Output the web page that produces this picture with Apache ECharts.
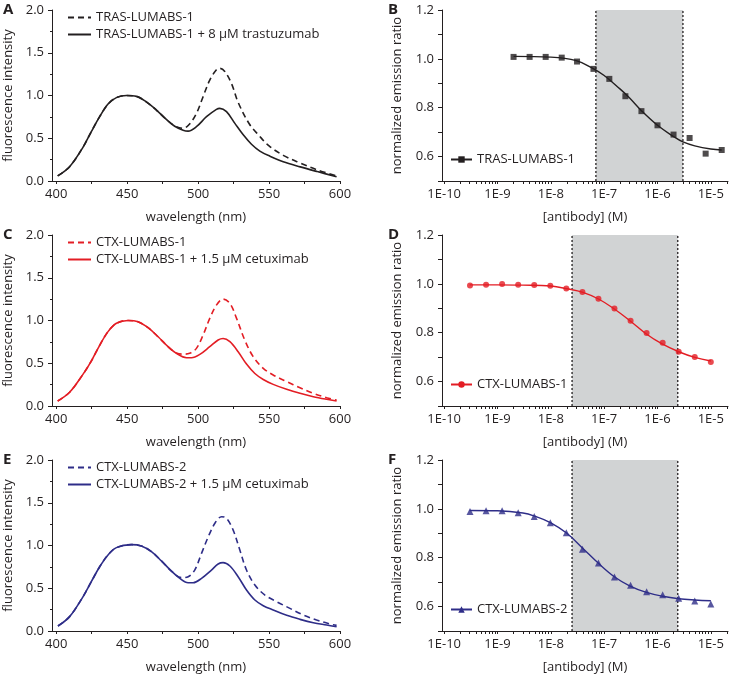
<!DOCTYPE html>
<html><head><meta charset="utf-8">
<script src="https://cdn.jsdelivr.net/npm/echarts@6/dist/echarts.min.js"></script>
<style>html,body{margin:0;padding:0;background:#fff}#c{width:729px;height:675px}</style>
</head><body><div id="c"></div>
<script>
// ---------- tick labels ----------
const wlLabels = [400, 450, 500, 550, 600];
const wlTicks = [400, 425, 450, 475, 500, 525, 550, 575, 600];
const concLabels = [1e-10, 1e-9, 1e-8, 1e-7, 1e-6, 1e-5];

// ---------- panel A (TRAS-LUMABS-1 spectra) ----------
const aSolidWl = [401, 409.4, 418.8, 424.7, 430.6, 436.5, 442.4, 449.5, 456.5, 463.5, 470.6, 477.6, 483.5, 489.4, 492.9, 498.8, 505.9, 512.9, 515.3, 520, 525.9, 531.8, 537.6, 543.5, 550.6, 560, 572, 584, 597.6];
const aSolidI  = [0.06, 0.167, 0.394, 0.577, 0.752, 0.90, 0.975, 1.0, 0.99, 0.925, 0.83, 0.72, 0.64, 0.594, 0.583, 0.635, 0.752, 0.838, 0.85, 0.811, 0.674, 0.54, 0.43, 0.35, 0.29, 0.225, 0.165, 0.11, 0.05];
const aDashWl  = [401, 409.4, 418.8, 424.7, 430.6, 436.5, 442.4, 449.5, 456.5, 463.5, 470.6, 477.6, 483.5, 489.4, 494, 498.8, 503.5, 508.2, 512.9, 515.3, 518.8, 523.5, 528.2, 536, 543, 550, 560, 572, 584, 597.6];
const aDashI   = [0.06, 0.167, 0.394, 0.577, 0.752, 0.90, 0.975, 1.0, 0.99, 0.925, 0.83, 0.72, 0.645, 0.616, 0.667, 0.79, 0.986, 1.18, 1.30, 1.318, 1.28, 1.14, 0.92, 0.67, 0.53, 0.41, 0.30, 0.21, 0.13, 0.06];

// ---------- panel C (CTX-LUMABS-1 spectra) ----------
const cSolidWl = [401, 409.4, 418.8, 424.7, 430.6, 436.5, 442.4, 450.6, 457.6, 464.7, 471.8, 478.8, 484.7, 491.8, 495.3, 501.2, 508.2, 514.1, 517.6, 522.4, 528.2, 534.1, 540, 545.9, 552.9, 562.4, 571.8, 581.2, 590.6, 597.6];
const cSolidI  = [0.058, 0.16, 0.37, 0.526, 0.71, 0.87, 0.967, 1.0, 0.986, 0.916, 0.81, 0.694, 0.616, 0.565, 0.565, 0.604, 0.694, 0.772, 0.79, 0.752, 0.635, 0.49, 0.38, 0.31, 0.253, 0.195, 0.148, 0.109, 0.078, 0.058];
const cDashWl  = [401, 409.4, 418.8, 424.7, 430.6, 436.5, 442.4, 450.6, 457.6, 464.7, 471.8, 478.8, 484.7, 489.4, 494, 498.8, 503.5, 508.2, 512.9, 517.6, 522.4, 527.1, 532.9, 538.8, 545.9, 552.9, 562.4, 571.8, 581.2, 590.6, 597.6];
const cDashI   = [0.058, 0.16, 0.37, 0.526, 0.71, 0.87, 0.967, 1.0, 0.986, 0.916, 0.81, 0.694, 0.62, 0.606, 0.616, 0.674, 0.83, 1.025, 1.18, 1.25, 1.20, 1.025, 0.77, 0.577, 0.44, 0.363, 0.285, 0.214, 0.148, 0.097, 0.07];

// ---------- panel E (CTX-LUMABS-2 spectra) ----------
const eSolidWl = [401.2, 409.4, 418.8, 424.7, 430.6, 436.5, 442.4, 452.9, 460, 467.1, 474.1, 481.2, 487.1, 492.9, 496.5, 502.4, 509.4, 514.1, 517.6, 522.4, 528.2, 534.1, 540, 545.9, 552.9, 562.4, 571.8, 581.2, 590.6, 597.6];
const eSolidI  = [0.058, 0.168, 0.40, 0.577, 0.752, 0.89, 0.975, 1.01, 0.995, 0.928, 0.82, 0.70, 0.616, 0.565, 0.565, 0.616, 0.713, 0.784, 0.80, 0.76, 0.635, 0.48, 0.363, 0.296, 0.246, 0.183, 0.136, 0.097, 0.07, 0.05];
const eDashWl  = [401.2, 409.4, 418.8, 424.7, 430.6, 436.5, 442.4, 452.9, 460, 467.1, 474.1, 481.2, 488.2, 493, 497.6, 502.4, 507.1, 511.8, 516.5, 520, 524.7, 529.4, 534.1, 540, 547.1, 555.3, 564.7, 574.1, 583.5, 592.9, 597.6];
const eDashI   = [0.058, 0.168, 0.40, 0.577, 0.752, 0.89, 0.975, 1.01, 0.995, 0.928, 0.82, 0.70, 0.624, 0.635, 0.713, 0.908, 1.10, 1.26, 1.337, 1.318, 1.18, 0.947, 0.713, 0.538, 0.42, 0.343, 0.265, 0.187, 0.129, 0.082, 0.066];

// ---------- panel B (TRAS-LUMABS-1 titration) ----------
const bConc  = [2e-9, 4e-9, 8e-9, 1.6e-8, 3.1e-8, 6.3e-8, 1.25e-7, 2.5e-7, 5e-7, 1e-6, 2e-6, 4e-6, 8e-6, 1.6e-5];
const bRatio = [1.008, 1.008, 1.008, 1.005, 0.989, 0.959, 0.918, 0.847, 0.786, 0.728, 0.690, 0.676, 0.612, 0.627];
const bFitConc  = [2e-9, 1e-8, 3e-8, 6e-8, 1e-7, 2e-7, 3e-7, 5e-7, 1e-6, 2e-6, 3e-6, 5e-6, 1e-5, 1.6e-5];
const bFitRatio = [1.01, 1.007, 0.993, 0.962, 0.932, 0.876, 0.84, 0.788, 0.728, 0.682, 0.66, 0.644, 0.631, 0.627];
const bBand = [7e-8, 3e-6];

// ---------- panel D (CTX-LUMABS-1 titration) ----------
const dConc  = [3.05e-10, 6.1e-10, 1.22e-9, 2.44e-9, 4.88e-9, 9.77e-9, 1.95e-8, 3.91e-8, 7.81e-8, 1.56e-7, 3.13e-7, 6.25e-7, 1.25e-6, 2.5e-6, 5e-6, 1e-5];
const dRatio = [0.993, 0.996, 0.999, 0.996, 0.995, 0.992, 0.981, 0.967, 0.939, 0.899, 0.849, 0.799, 0.759, 0.722, 0.701, 0.680];
const dFitConc  = [3e-10, 1e-9, 3e-9, 1e-8, 2e-8, 4e-8, 8e-8, 1.6e-7, 3e-7, 6e-7, 1.2e-6, 2.5e-6, 5e-6, 1e-5];
const dFitRatio = [0.996, 0.996, 0.995, 0.991, 0.980, 0.965, 0.937, 0.895, 0.85, 0.797, 0.755, 0.722, 0.699, 0.684];
const dBand = [2.5e-8, 2.4e-6];

// ---------- panel F (CTX-LUMABS-2 titration) ----------
const fConc  = [3.05e-10, 6.1e-10, 1.22e-9, 2.44e-9, 4.88e-9, 9.77e-9, 1.95e-8, 3.91e-8, 7.81e-8, 1.56e-7, 3.13e-7, 6.25e-7, 1.25e-6, 2.5e-6, 5e-6, 1e-5];
const fRatio = [0.989, 0.992, 0.992, 0.984, 0.969, 0.943, 0.902, 0.835, 0.778, 0.721, 0.687, 0.661, 0.648, 0.634, 0.623, 0.611];
const fFitConc  = [3e-10, 1e-9, 3e-9, 5e-9, 1e-8, 2e-8, 4e-8, 8e-8, 1.6e-7, 3e-7, 6e-7, 1.25e-6, 2.5e-6, 5e-6, 1e-5];
const fFitRatio = [0.993, 0.992, 0.983, 0.970, 0.943, 0.900, 0.838, 0.775, 0.720, 0.685, 0.659, 0.642, 0.632, 0.627, 0.624];
const fBand = [2.5e-8, 2.4e-6];

// ---------- styling ----------
const FONT = 'Open Sans';
const FS = 13;
const INK = '#231f20';
const BLACK = '#231f20', RED = '#e31d24', NAVY = '#2e2d88', BAND = '#d1d3d4';
const TOPS = [10, 235, 460];
const H = 171;
const LEFT_L = 52, W_L = 288, LEFT_R = 442, W_R = 286;
const Y_MIN_R = 0.5, Y_MAX_R = 1.2;

const zip = (xs, ys) => xs.map((x, i) => [x, ys[i]]);
const concMinor = [];
for (let e = -10; e <= -5; e++) for (let m = 1; m <= 9; m++) { const v = m * Math.pow(10, e); if (v <= 2.1e-5) concMinor.push(v); }

const grids = [], xAxes = [], yAxes = [], series = [], legends = [], titles = [];
const txt = { fontFamily: FONT, fontSize: FS, color: INK };

function spectPanel(letter, top, color, dashName, solidName, dWl, dI, sWl, sI) {
  const g = grids.length;
  grids.push({ left: LEFT_L, top: top, width: W_L, height: H, outerBoundsMode: 'none', containLabel: false });
  xAxes.push({ gridIndex: g, type: 'value', min: 397, max: 600,
    axisLine: { show: true, lineStyle: { color: INK, width: 1 } },
    axisTick: { show: true, customValues: wlTicks, length: 3, lineStyle: { color: INK } },
    axisLabel: { customValues: wlLabels, margin: 7, ...txt },
    splitLine: { show: false },
    name: 'wavelength (nm)', nameLocation: 'middle', nameGap: 30, nameTextStyle: txt });
  yAxes.push({ gridIndex: g, type: 'value', min: 0, max: 2, interval: 0.5,
    axisLine: { show: true, lineStyle: { color: INK, width: 1 } },
    axisTick: { show: true, length: 4, lineStyle: { color: INK } },
    minorTick: { show: true, splitNumber: 2, length: 2, lineStyle: { color: INK } },
    axisLabel: { formatter: v => v.toFixed(1), margin: 8, ...txt },
    splitLine: { show: false },
    name: 'fluorescence intensity', nameLocation: 'middle', nameGap: 37, nameTextStyle: txt });
  series.push({ name: letter + '|' + dashName, type: 'line', xAxisIndex: g, yAxisIndex: g, data: zip(dWl, dI),
    symbol: 'none', smooth: 0.35, lineStyle: { color: color, width: 1.6, type: [6, 4] }, itemStyle: { color: color } });
  series.push({ name: letter + '|' + solidName, type: 'line', xAxisIndex: g, yAxisIndex: g, data: zip(sWl, sI),
    symbol: 'none', smooth: 0.35, lineStyle: { color: color, width: 1.6 }, itemStyle: { color: color } });
  legends.push({ data: [letter + '|' + dashName, letter + '|' + solidName], formatter: n => n.split('|')[1],
    orient: 'vertical', left: 67, top: top + 1, padding: 0, itemWidth: 23, itemHeight: 12, itemGap: 4,
    itemStyle: { opacity: 0 }, selectedMode: false, textStyle: txt });
}

function titrPanel(letter, top, color, name, sym, symSize, conc, ratio, fitC, fitR, band) {
  const g = grids.length;
  grids.push({ left: LEFT_R, top: top, width: W_R, height: H, outerBoundsMode: 'none', containLabel: false });
  xAxes.push({ gridIndex: g, type: 'log', logBase: 10, min: 9.1e-11, max: 2.1e-5,
    axisLine: { show: true, lineStyle: { color: INK, width: 1 } },
    axisTick: { show: true, customValues: concMinor, length: 3, lineStyle: { color: INK } },
    axisLabel: { customValues: concLabels, margin: 7, ...txt,
      formatter: v => '1E' + Math.round(Math.log10(v)) },
    splitLine: { show: false }, minorTick: { show: false },
    name: '[antibody] (M)', nameLocation: 'middle', nameGap: 30, nameTextStyle: txt });
  yAxes.push({ gridIndex: g, type: 'value', min: Y_MIN_R, max: Y_MAX_R, interval: 0.1,
    axisLine: { show: true, lineStyle: { color: INK, width: 1 } },
    axisTick: { show: true, length: 4, lineStyle: { color: INK } },
    axisLabel: { margin: 8, ...txt, formatter: v => (Math.round(v * 10) % 2 === 0 ? v.toFixed(1) : '') },
    splitLine: { show: false },
    name: 'normalized emission ratio', nameLocation: 'middle', nameGap: 38, nameTextStyle: txt });
  // shaded concentration window
  series.push({ name: letter + '|band', type: 'line', xAxisIndex: g, yAxisIndex: g, data: [], z: 1,
    markArea: { silent: true, itemStyle: { color: BAND }, data: [[{ xAxis: band[0] }, { xAxis: band[1] }]] } });
  // dotted edges of the window
  band.forEach((b, k) => series.push({ name: letter + '|edge' + k, type: 'line', xAxisIndex: g, yAxisIndex: g,
    data: [[b, Y_MIN_R], [b, Y_MAX_R]], symbol: 'none', z: 2, silent: true,
    lineStyle: { color: INK, width: 1.3, type: [2, 2] } }));
  series.push({ name: letter + '|' + name, type: 'line', xAxisIndex: g, yAxisIndex: g, data: zip(fitC, fitR),
    symbol: sym, symbolSize: symSize, showSymbol: false, smooth: 0.4, z: 3,
    lineStyle: { color: color, width: 1.4 }, itemStyle: { color: color } });
  series.push({ name: letter + '|pts', type: 'scatter', xAxisIndex: g, yAxisIndex: g, data: zip(conc, ratio),
    symbol: sym, symbolSize: symSize, z: 4, itemStyle: { color: color } });
  legends.push({ data: [letter + '|' + name], formatter: n => n.split('|')[1],
    orient: 'vertical', left: 450, top: top + 143, padding: 0, itemWidth: 21, itemHeight: 8, itemGap: 4,
    selectedMode: false, textStyle: txt });
}

spectPanel('A', TOPS[0], BLACK, 'TRAS-LUMABS-1', 'TRAS-LUMABS-1 + 8 µM trastuzumab', aDashWl, aDashI, aSolidWl, aSolidI);
titrPanel('B', TOPS[0], BLACK, 'TRAS-LUMABS-1', 'rect', 6, bConc, bRatio, bFitConc, bFitRatio, bBand);
spectPanel('C', TOPS[1], RED, 'CTX-LUMABS-1', 'CTX-LUMABS-1 + 1.5 µM cetuximab', cDashWl, cDashI, cSolidWl, cSolidI);
titrPanel('D', TOPS[1], RED, 'CTX-LUMABS-1', 'circle', 6, dConc, dRatio, dFitConc, dFitRatio, dBand);
spectPanel('E', TOPS[2], NAVY, 'CTX-LUMABS-2', 'CTX-LUMABS-2 + 1.5 µM cetuximab', eDashWl, eDashI, eSolidWl, eSolidI);
titrPanel('F', TOPS[2], NAVY, 'CTX-LUMABS-2', 'triangle', 7, fConc, fRatio, fFitConc, fFitRatio, fBand);

const letters = [['A', 3, 2], ['B', 388, 2], ['C', 3, 227], ['D', 388, 227], ['E', 3, 452], ['F', 388, 452]];
letters.forEach(([t, x, y]) => titles.push({ text: t, left: x, top: y, padding: 0,
  textStyle: { fontFamily: FONT, fontSize: 15, fontWeight: 'bold', color: INK } }));

const chart = echarts.init(document.getElementById('c'), null, { renderer: 'canvas' });
chart.setOption({
  animation: false,
  backgroundColor: '#fff',
  textStyle: { fontFamily: FONT },
  title: titles,
  grid: grids, xAxis: xAxes, yAxis: yAxes, series: series, legend: legends
});
</script></body></html>
